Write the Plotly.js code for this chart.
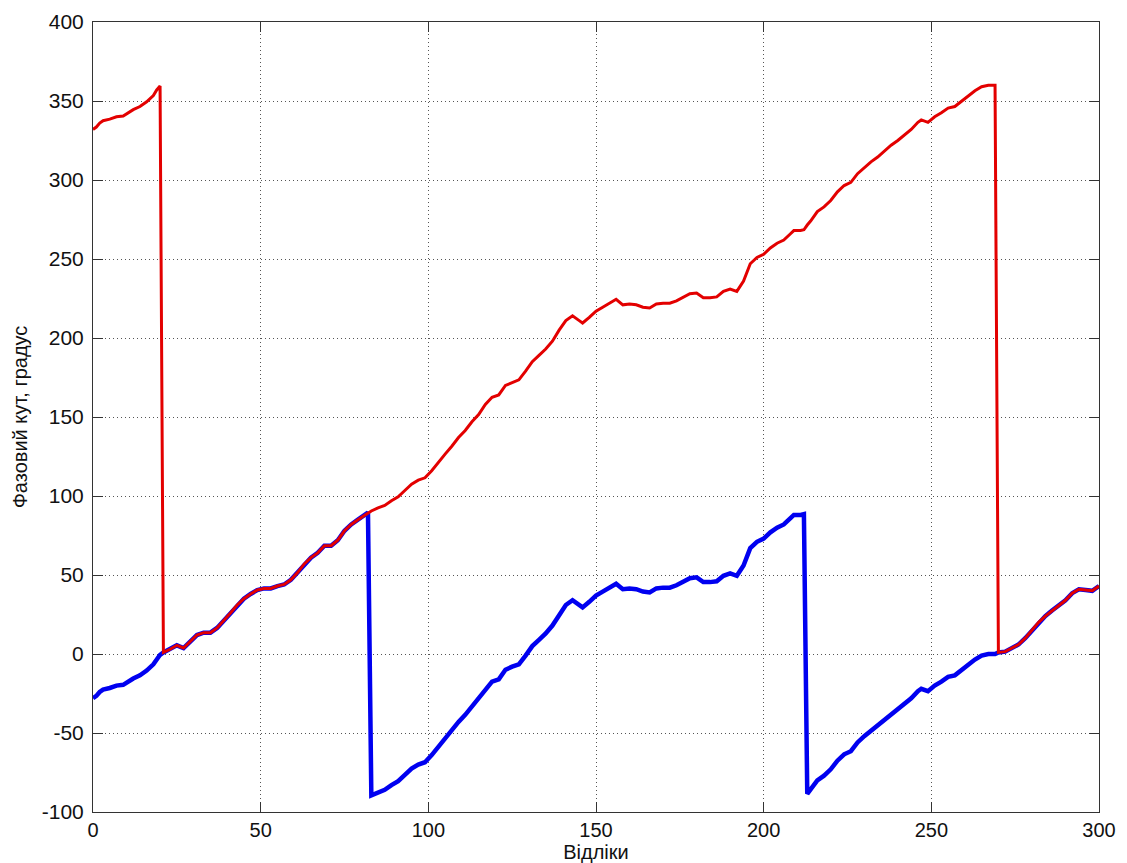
<!DOCTYPE html>
<html>
<head>
<meta charset="utf-8">
<script src="https://cdn.plot.ly/plotly-3.0.1.min.js"></script>
<style>
  html, body { margin: 0; padding: 0; background: #ffffff; }
  #chart { width: 1127px; height: 863px; }
</style>
</head>
<body>
<div id="chart"></div>
<script>
// Sample indices (Відліки)
const samples = [
  0, 1, 2, 3, 5, 7, 9, 10, 12, 14, 16, 18, 19, 20,
  21, 23, 25, 27, 29, 31, 33, 35, 37, 39, 41, 43, 45, 47, 49, 51,
  53, 55, 57, 59, 61, 63, 65, 67, 69, 71, 73, 75, 77, 79, 81, 82,
  83, 85, 87, 89, 91, 93, 95, 97, 99, 101, 103, 105, 107, 109, 111, 113,
  115, 117, 119, 121, 123, 125, 127, 129, 131, 133, 135, 137, 139, 141, 143,
  145, 146,
  148, 150, 152, 154, 156, 158, 160, 162, 164, 166, 168, 170, 172, 174, 176, 178,
  180, 182, 184, 186, 188, 190, 192, 194, 196, 198, 200, 202, 204, 206, 208,
  209, 211, 212,
  213, 214,
  216, 218, 220, 222, 224, 226, 228, 230, 232, 234, 236, 238, 240, 242, 244, 246,
  247,
  249, 251, 253, 255, 257, 259, 261, 263, 265, 267, 269,
  270, 272, 274, 276, 278, 280, 282, 284, 286, 288, 290, 292, 294, 296, 298, 300
];

// Phase angle wrapped to [0, 360), degrees
const phase360 = [
  332, 333.5, 336, 337.5, 338.5, 340, 340.5, 342, 344.5, 346.5, 349.5, 353.5, 357, 359.5,
  1, 3, 5.5, 3.8, 8, 12, 13.5, 13.5, 16.5, 21, 26, 31, 35, 38, 40.5, 41.5,
  41.5, 43, 44, 47, 51.5, 57, 61, 64, 68.5, 68.5, 72, 78, 82, 85, 88, 89.5,
  90.5, 92.5, 94, 97, 99.5, 103.5, 107.5, 110, 111.5, 116, 121.5, 126.5, 131.5, 137, 141.5, 147,
  151.5, 158, 162.5, 164, 170, 172, 173.5, 179, 185, 189, 193, 198, 205, 211, 214,
  211, 209.5,
  213, 217, 219.5, 222, 224.5, 221, 221.5, 221, 219.5, 219, 221.5, 222, 222, 223.5, 226, 228,
  228.5, 225.5, 225.5, 226, 229.5, 231, 229.5, 236, 247, 251, 253, 257, 260, 262, 266,
  268, 268, 268.5,
  271.5, 274,
  280, 283, 287, 292.5, 296.5, 298.5, 304, 308, 311.5, 314.5, 318.5, 322, 325, 328.5, 332, 336.5,
  338,
  336.5, 340, 342.5, 345.5, 346.5, 350, 353.5, 356.5, 359, 360, 360,
  1, 1.5, 3.5, 6, 10, 15, 20, 24, 27.5, 30.5, 34, 38.5, 41, 40.5, 40, 43
];

// Phase angle wrapped to [-90, 90), degrees
const phase180 = [
  -28, -26.5, -24, -22.5, -21.5, -20, -19.5, -18, -15.5, -13.5, -10.5, -6.5, -3, -0.5,
  1, 3, 5.5, 3.8, 8, 12, 13.5, 13.5, 16.5, 21, 26, 31, 35, 38, 40.5, 41.5,
  41.5, 43, 44, 47, 51.5, 57, 61, 64, 68.5, 68.5, 72, 78, 82, 85, 88, 89.5,
  -89.5, -87.5, -86, -83, -80.5, -76.5, -72.5, -70, -68.5, -64, -58.5, -53.5, -48.5, -43, -38.5, -33,
  -28.5, -22, -17.5, -16, -10, -8, -6.5, -1, 5, 9, 13, 18, 25, 31, 34,
  31, 29.5,
  33, 37, 39.5, 42, 44.5, 41, 41.5, 41, 39.5, 39, 41.5, 42, 42, 43.5, 46, 48,
  48.5, 45.5, 45.5, 46, 49.5, 51, 49.5, 56, 67, 71, 73, 77, 80, 82, 86,
  88, 88, 88.5,
  -88.5, -86,
  -80, -77, -73, -67.5, -63.5, -61.5, -56, -52, -48.5, -45.5, -41.5, -38, -35, -31.5, -28, -23.5,
  -22,
  -23.5, -20, -17.5, -14.5, -13.5, -10, -6.5, -3.5, -1, 0, 0,
  1, 1.5, 3.5, 6, 10, 15, 20, 24, 27.5, 30.5, 34, 38.5, 41, 40.5, 40, 43
];

const xTicks = [0, 50, 100, 150, 200, 250, 300];
const yTicks = [-100, -50, 0, 50, 100, 150, 200, 250, 300, 350, 400];

const traces = [
  {
    x: samples, y: phase180, type: 'scatter', mode: 'lines',
    line: { color: '#0000f0', width: 4.5 },
    showlegend: false, hoverinfo: 'x+y'
  },
  {
    x: samples, y: phase360, type: 'scatter', mode: 'lines',
    line: { color: '#e30000', width: 3 },
    showlegend: false, hoverinfo: 'x+y'
  }
];

const fontFamily = 'Arial, "Liberation Sans", sans-serif';

const axisCommon = {
  showline: true,
  linecolor: '#333333',
  linewidth: 1,
  mirror: 'ticks',
  ticks: 'inside',
  ticklen: 10,
  tickwidth: 1,
  tickcolor: '#333333',
  showgrid: true,
  gridcolor: '#555555',
  gridwidth: 1,
  griddash: '1px,3px',
  zeroline: false,
  tickfont: { family: fontFamily, size: 21, color: '#111111' }
};

const layout = {
  width: 1127,
  height: 863,
  margin: { l: 93, r: 28, t: 22, b: 51 },
  paper_bgcolor: '#ffffff',
  plot_bgcolor: '#ffffff',
  showlegend: false,
  xaxis: Object.assign({}, axisCommon, {
    range: [0, 300],
    tickvals: xTicks,
    ticktext: xTicks.map(String),
    tickfont: { family: fontFamily, size: 20, color: '#111111' },
    ticklabelstandoff: 0,
    title: { text: 'Відліки', font: { family: fontFamily, size: 20, color: '#111111' }, standoff: 6 }
  }),
  yaxis: Object.assign({}, axisCommon, {
    range: [-100, 400],
    tickvals: yTicks,
    ticktext: yTicks.map(String),
    ticklabelstandoff: 4,
    title: { text: 'Фазовий кут, градус', font: { family: fontFamily, size: 20, color: '#111111' }, standoff: 8 }
  })
};

Plotly.newPlot('chart', traces, layout, { displayModeBar: false, staticPlot: true });
</script>
</body>
</html>
